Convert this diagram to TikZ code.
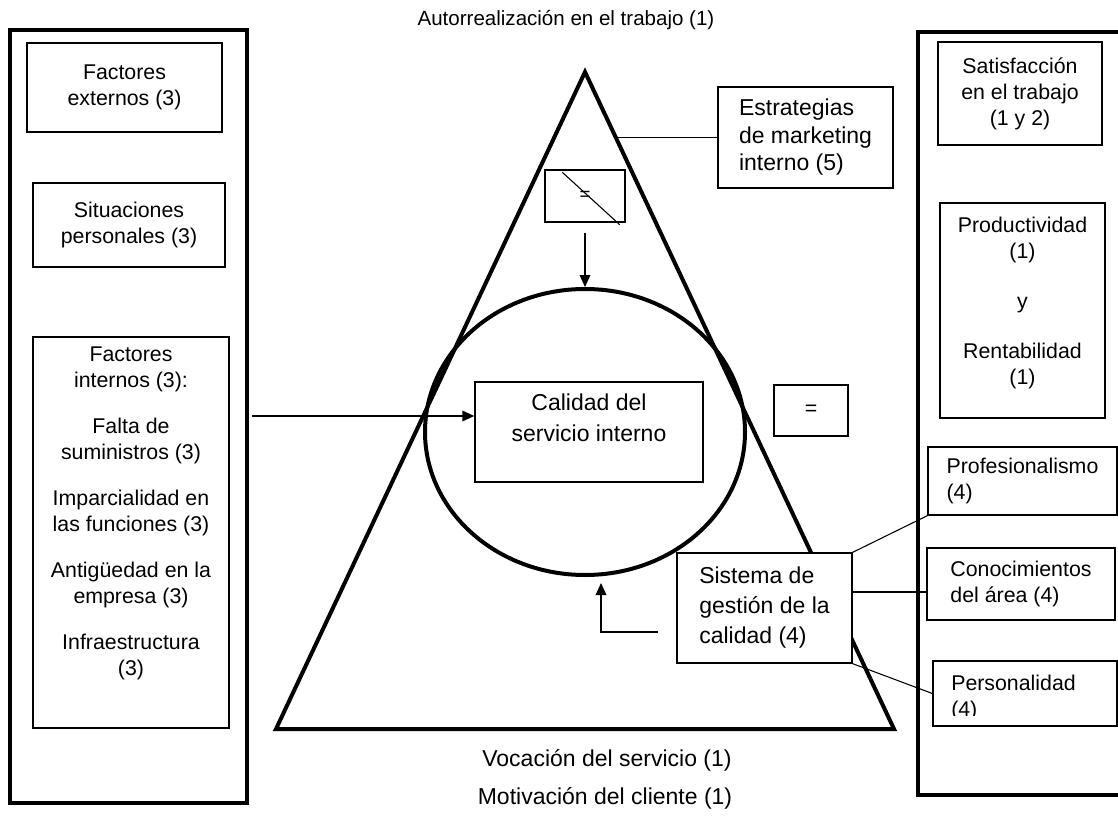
\documentclass[tikz,border=0pt]{standalone}
\usepackage{fontspec}
\setmainfont{Liberation Sans}
\usetikzlibrary{arrows.meta,shapes.geometric}
\newcommand{\smallfs}{\fontsize{16pt}{19.5pt}\selectfont}
\newcommand{\bigfs}{\fontsize{17.25pt}{22.5pt}\selectfont}
\begin{document}
\begin{tikzpicture}[x=0.75pt,y=-0.75pt,
  sz/.style 2 args={minimum width=#1*0.75pt, minimum height=#2*0.75pt},
  heavy/.style={line width=3pt},
  panel/.style={draw, line width=3.6pt, inner sep=0pt},
  box/.style={draw, line width=1pt, fill=white, inner sep=0pt},
  txt/.style={inner sep=0pt, align=center},
  link/.style={line width=0.8pt},
  arr/.style={line width=1pt, -{Triangle[length=9pt,width=8pt]}},
]
\clip (0,0) rectangle (1118,820);

% side panels
\node[panel, sz={237}{773}] (lp) at (128.5,416.5) {};
\node[panel, sz={212}{763}] (rp) at (1024,413.5) {};

% triangle
\coordinate (ta) at (585,72);
\coordinate (tl) at (276,729);
\coordinate (tr) at (894,729);
\draw[heavy, line join=miter] (ta) -- (tl) -- (tr) -- cycle;

% circle
\node[draw, heavy, ellipse, sz={320}{286}, inner sep=0pt] (circ) at (585,432) {};

% titles
\node[txt, font=\fontsize{15.4pt}{18pt}\selectfont] (top) at (566,20) {Autorrealización en el trabajo (1)};
\node[txt, font=\bigfs] (voc) at (607,760) {Vocación del servicio (1)};
\node[txt, font=\bigfs] (mot) at (605,798) {Motivación del cliente (1)};

% left column
\node[box, sz={195}{89}, font=\smallfs, align=center] (fe) at (124.5,87.5) {Factores\\externos (3)};
\node[box, sz={192}{84}, font=\smallfs, align=center] (sp) at (129,225) {Situaciones\\personales (3)};
\node[box, sz={196}{391}] (fi) at (131,532.5) {};
\node[txt, font=\smallfs] (fit) at (131,513) {Factores\\internos (3):\\[15pt]Falta de\\suministros (3)\\[15pt]Imparcialidad en\\las funciones (3)\\[15pt]Antigüedad en la\\empresa (3)\\[15pt]Infraestructura\\(3)};

% right column
\node[box, sz={164}{103}, font=\smallfs, align=center] (sat) at (1020,93.5) {Satisfacción\\en el trabajo\\(1 y 2)};
\node[box, sz={165}{215}] (prod) at (1022.5,310.5) {};
\node[txt, font=\smallfs] (prodt) at (1022.5,302.5) {Productividad\\(1)\\[18pt]y\\[18pt]Rentabilidad\\(1)};
\node[box, sz={189}{68}, font=\smallfs, align=left] (prof) at (1022.5,481) {Profesionalismo\\(4)};
\node[box, sz={188}{72}, font=\smallfs, align=left] (cono) at (1021,584) {Conocimientos\\del área (4)};
\node[box, sz={184}{65}] (pers) at (1025,693.5) {};
\begin{scope}
\clip (933,661) rectangle (1117,715);
\node[txt, align=left, font=\smallfs, anchor=west] (perst) at (951,697.5) {Personalidad\\(4)};
\end{scope}

% centre boxes
\node[box, sz={175}{101}, font=\fontsize{17.25pt}{20.6pt}\selectfont, align=left] (estr) at (805.5,137.5) {Estrategias\\de marketing\\interno (5)};
\node[box, sz={228}{100}] (cal) at (589,432) {};
\node[txt, font=\fontsize{17.25pt}{23.25pt}\selectfont] (calt) at (589,417.5) {Calidad del\\servicio interno};
\node[box, sz={175}{110}, font=\bigfs, align=left] (sist) at (764.5,608) {Sistema de\\gestión de la\\calidad (4)};
\node[box, sz={80}{52}, font=\fontsize{14pt}{15pt}\selectfont] (eq1) at (585,196) {=};
\node[box, sz={74}{51}, font=\smallfs] (eq2) at (811,410.5) {=};

% connectors
\coordinate (tre) at (616,137.5);
\draw[link] (tre) -- (estr.west);
\draw[link] ([shift={(18,3)}]eq1.north west) -- ([shift={(-6,2)}]eq1.south east);
\draw[arr, shorten <=7.5pt] (eq1.south) -- (circ.north);
\coordinate (la) at (252,416);
\draw[arr] (la) -- (cal.west |- la);
\coordinate (ba) at (658,632);
\coordinate (bt) at (601,583);
\draw[arr] (ba) -| (bt);
\draw[link] (sist.north east) -- (prof.south west);
\coordinate (sc) at (852,592);
\draw[link] (sc) -- (cono.west |- sc);
\draw[link] (sist.south east) -- (pers.west);
\end{tikzpicture}
\end{document}
